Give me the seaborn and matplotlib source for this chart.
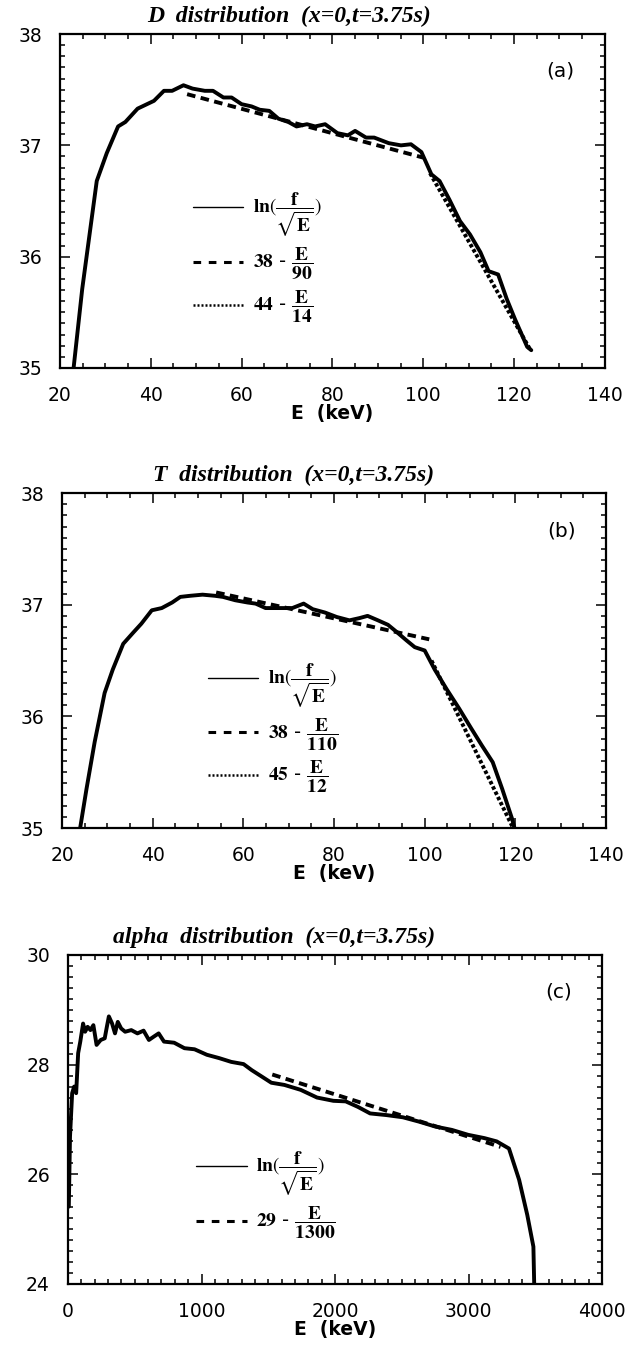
import matplotlib
matplotlib.use("Agg")
import numpy as np
import pandas as pd
import matplotlib.pyplot as plt
import seaborn as sns
from matplotlib.lines import Line2D
from matplotlib.ticker import MultipleLocator

# ---------------- data ----------------
# panel (a) D distribution
a_E = [23, 24.9, 28.1, 30.3, 32.8, 34.4, 37.1, 40.7, 42.9, 44.7, 47.2, 49.2, 51.9, 53.7,
       56, 57.8, 60, 62.2, 64, 66.1, 68.1, 70.3, 72.1, 74.4, 76.2, 78.4, 81.1, 83.4, 85,
       87.4, 89.2, 92.4, 95.1, 97.3, 99.6, 101.8, 103.6, 105.8, 108.1, 110.3, 112.6, 114.4,
       116.5, 118.4, 120.2, 122.9, 123.8]
a_lnf = [35.0, 35.71, 36.68, 36.93, 37.17, 37.21, 37.33, 37.40, 37.49, 37.49, 37.54, 37.51,
         37.49, 37.49, 37.43, 37.43, 37.37, 37.35, 37.32, 37.31, 37.24, 37.21, 37.17, 37.19,
         37.17, 37.19, 37.11, 37.09, 37.13, 37.07, 37.07, 37.02, 37.0, 37.01, 36.94, 36.74,
         36.68, 36.51, 36.32, 36.2, 36.04, 35.87, 35.84, 35.62, 35.44, 35.19, 35.16]
a_fit1_E = [48, 100]
a_fit1_y = [37.46, 36.89]
a_fit2_E = [101.5, 123.5]
a_fit2_y = [36.75, 35.17]

# panel (b) T distribution
b_E = [24, 25.4, 27.2, 29.4, 31.2, 33.5, 35.7, 37.5, 39.8, 42, 44.3, 46.1, 48.3, 51, 53.7,
       55.5, 58.2, 60.9, 62.7, 64.9, 68.1, 70.8, 73.3, 75.3, 78, 80.6, 83.4, 85.6, 87.4,
       89.7, 91.9, 93.7, 96, 97.8, 100, 102.2, 104.9, 107.6, 110.3, 112.6, 115, 117.1,
       119.3, 119.8]
b_lnf = [35.0, 35.35, 35.77, 36.21, 36.42, 36.65, 36.75, 36.83, 36.95, 36.97, 37.02, 37.07,
         37.08, 37.09, 37.08, 37.07, 37.04, 37.02, 37.01, 36.97, 36.97, 36.97, 37.01, 36.96,
         36.93, 36.89, 36.86, 36.88, 36.90, 36.86, 36.82, 36.76, 36.68, 36.62, 36.59, 36.42,
         36.24, 36.07, 35.89, 35.74, 35.59, 35.35, 35.08, 35.0]
b_fit1_E = [54, 101]
b_fit1_y = [37.11, 36.69]
b_fit2_E = [101.5, 119.5]
b_fit2_y = [36.5, 35.0]

# panel (c) alpha distribution
c_E = [6, 15, 31, 46, 61, 76, 92, 113, 128, 147, 168, 190, 214, 245, 275, 291, 306, 330,
       352, 373, 398, 428, 474, 520, 566, 606, 642, 679, 719, 795, 872, 948, 1040, 1131,
       1223, 1315, 1376, 1453, 1523, 1621, 1743, 1865, 1988, 2080, 2171, 2263, 2385, 2508,
       2630, 2752, 2875, 2997, 3119, 3211, 3303, 3379, 3440, 3486, 3492]
c_lnf = [25.41, 26.69, 27.48, 27.6, 27.48, 28.21, 28.42, 28.75, 28.6, 28.69, 28.63, 28.72,
         28.36, 28.45, 28.48, 28.69, 28.88, 28.75, 28.57, 28.78, 28.66, 28.60, 28.63, 28.57,
         28.62, 28.45, 28.51, 28.57, 28.42, 28.40, 28.30, 28.28, 28.18, 28.12, 28.05, 28.01,
         27.90, 27.78, 27.67, 27.63, 27.54, 27.40, 27.34, 27.33, 27.23, 27.11, 27.08, 27.04,
         26.96, 26.87, 26.81, 26.72, 26.66, 26.60, 26.47, 25.90, 25.26, 24.68, 24.0]
c_fit1_E = [1530, 3240]
c_fit1_y = [27.82, 26.50]

titles = ["D  distribution  (x=0,t=3.75s)",
          "T  distribution  (x=0,t=3.75s)",
          "alpha  distribution  (x=0,t=3.75s)"]
panel_tags = ["(a)", "(b)", "(c)"]
lab_ln = r"$\mathbf{ln}(\dfrac{\mathbf{f}}{\sqrt{\mathbf{E}}})$"
labels_a = [lab_ln, r"$\mathbf{38}$ - $\dfrac{\mathbf{E}}{\mathbf{90}}$",
            r"$\mathbf{44}$ - $\dfrac{\mathbf{E}}{\mathbf{14}}$"]
labels_b = [lab_ln, r"$\mathbf{38}$ - $\dfrac{\mathbf{E}}{\mathbf{110}}$",
            r"$\mathbf{45}$ - $\dfrac{\mathbf{E}}{\mathbf{12}}$"]
labels_c = [lab_ln, r"$\mathbf{29}$ - $\dfrac{\mathbf{E}}{\mathbf{1300}}$"]

# ---------------- style ----------------
sns.set_style("ticks")
plt.rcParams["font.family"] = ["DejaVu Sans"]
plt.rcParams["mathtext.fontset"] = "stix"
plt.rcParams["text.color"] = "black"
plt.rcParams["axes.labelcolor"] = "black"
plt.rcParams["xtick.color"] = "black"
plt.rcParams["ytick.color"] = "black"

fig = plt.figure(figsize=(6.38, 13.46), dpi=100)

DASH = (0, (2.2, 1.4))
DOT = (0, (0.9, 0.6))
LW = 2.8


def style_axes(ax, xlim, ylim, xmaj, xmin, ymaj, ymin):
    ax.set_xlim(*xlim)
    ax.set_ylim(*ylim)
    ax.xaxis.set_major_locator(MultipleLocator(xmaj))
    ax.xaxis.set_minor_locator(MultipleLocator(xmin))
    ax.yaxis.set_major_locator(MultipleLocator(ymaj))
    ax.yaxis.set_minor_locator(MultipleLocator(ymin))
    ax.tick_params(which="both", direction="in", top=True, right=True,
                   color="black", labelcolor="black", width=1.1)
    ax.tick_params(which="major", length=7, pad=13, labelsize=13.5)
    ax.tick_params(which="minor", length=3.5)
    for s in ax.spines.values():
        s.set_linewidth(1.6)
        s.set_color("black")
    ax.set_xlabel("E  (keV)", fontsize=13.5, fontweight="bold", labelpad=-1,
                  color="black")
    ax.set_ylabel("")


def draw(ax, E, y, fits, title, tag, title_x, labels, leg_anchor):
    df = pd.DataFrame({"E": E, "y": y})
    sns.lineplot(data=df, x="E", y="y", ax=ax, color="black", lw=LW,
                 sort=False, estimator=None)
    styles = [DASH, DOT]
    for (fe, fy), ls in zip(fits, styles):
        dff = pd.DataFrame({"E": fe, "y": fy})
        sns.lineplot(data=dff, x="E", y="y", ax=ax, color="black", lw=LW,
                     linestyle=ls, sort=False, estimator=None)
    ax.text(title_x, 1.053, title, transform=ax.transAxes, ha="center", va="center",
            fontsize=17, fontweight="bold", fontstyle="italic",
            family=["Liberation Serif"])
    ax.text(0.918, 0.888, tag, transform=ax.transAxes, ha="center", va="center",
            fontsize=14.5, color="black")
    handles = [Line2D([], [], color="black", lw=1.0)]
    hstyles = [(0, (2.5, 2.5)), (0, (0.8, 0.8))]
    for i in range(len(fits)):
        handles.append(Line2D([], [], color="black", lw=2.2 if i == 0 else 1.8,
                              linestyle=hstyles[i]))
    leg = ax.legend(handles, labels, loc="upper left", bbox_to_anchor=leg_anchor,
                    frameon=False, fontsize=14, handlelength=2.6, handletextpad=0.5,
                    labelspacing=0.35, borderpad=0, borderaxespad=0)
    for t in leg.get_texts():
        t.set_color("black")


axA = fig.add_axes([0.094, 0.7266, 0.854, 0.2481])
draw(axA, a_E, a_lnf, [(a_fit1_E, a_fit1_y), (a_fit2_E, a_fit2_y)],
     titles[0], panel_tags[0], 0.42, labels_a, (0.244, 0.529))
style_axes(axA, (20, 140), (35, 38), 20, 5, 1, 0.1)

axB = fig.add_axes([0.0972, 0.3848, 0.8527, 0.2489])
draw(axB, b_E, b_lnf, [(b_fit1_E, b_fit1_y), (b_fit2_E, b_fit2_y)],
     titles[1], panel_tags[1], 0.425, labels_b, (0.268, 0.497))
style_axes(axB, (20, 140), (35, 38), 20, 5, 1, 0.1)

axC = fig.add_axes([0.1066, 0.0461, 0.837, 0.2444])
draw(axC, c_E, c_lnf, [(c_fit1_E, c_fit1_y)],
     titles[2], panel_tags[2], 0.386, labels_c, (0.24, 0.407))
style_axes(axC, (0, 4000), (24, 30), 1000, 100, 2, 0.2)

fig.savefig("out.png", dpi=100)
